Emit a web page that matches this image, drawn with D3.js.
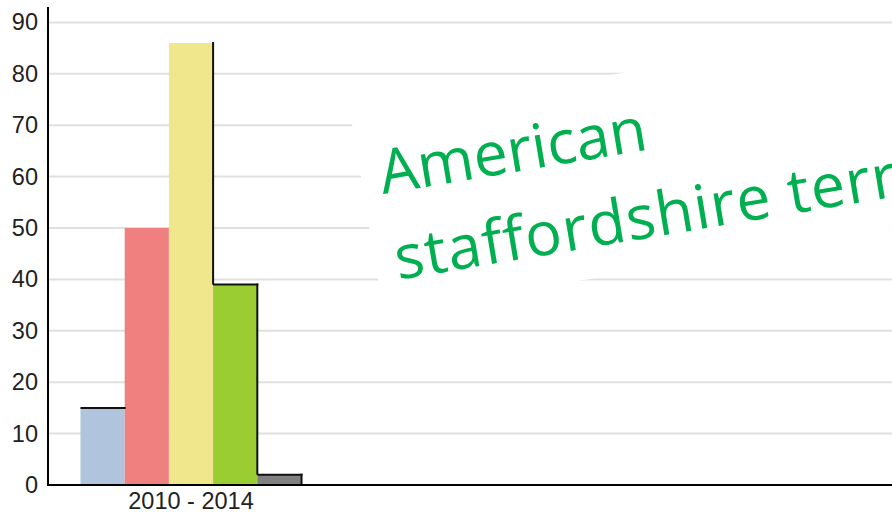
<!DOCTYPE html>
<html>
<head>
<meta charset="utf-8">
<script src="https://cdn.jsdelivr.net/npm/d3@7"></script>
<style>
  body { margin: 0; background: #fff; }
  svg { display: block; }
</style>
</head>
<body>
<script>
// data
var categories = ["2010 - 2014"];
var seriesNames = ["s1", "s2", "s3", "s4", "s5"];
var seriesValues = [15, 50, 86, 39, 2];
var seriesColors = ["#b0c4de", "#f08080", "#f0e68c", "#9acd32", "#808080"];
var yTicks = [0, 10, 20, 30, 40, 50, 60, 70, 80, 90];
var noteLines = ["American", "staffordshire terrier"];

var W = 892, H = 516;
var plotLeft = 48, plotBottom = 485, plotTop = 7;

var svg = d3.select("body").append("svg").attr("width", W).attr("height", H);

var y = d3.scaleLinear().domain([0, 93]).range([plotBottom, plotTop]);
var x0 = d3.scaleBand().domain(categories).range([plotLeft, 334]).paddingInner(0).paddingOuter(0.147);
var x1 = d3.scaleBand().domain(seriesNames).range([0, x0.bandwidth()]);

// grid lines
svg.append("g").selectAll("line")
  .data(yTicks.filter(function(d){ return d > 0; }))
  .enter().append("line")
  .attr("x1", plotLeft + 1).attr("x2", W)
  .attr("y1", function(d){ return y(d); })
  .attr("y2", function(d){ return y(d); })
  .attr("stroke", "#e0e0e0").attr("stroke-width", 2);

// bars
var bars = seriesNames.map(function(s, i){ return {name: s, value: seriesValues[i], color: seriesColors[i]}; });
var cx = x0(categories[0]);
svg.append("g").selectAll("rect")
  .data(bars)
  .enter().append("rect")
  .attr("x", function(d){ return cx + x1(d.name); })
  .attr("y", function(d){ return y(d.value); })
  .attr("width", x1.bandwidth())
  .attr("height", function(d){ return y(0) - y(d.value); })
  .attr("fill", function(d){ return d.color; });

// dark edges: top where previous bar is higher (or first), right side where next is lower (or last)
var edges = svg.append("g").attr("stroke", "#111").attr("stroke-width", 2).attr("fill", "none");
bars.forEach(function(d, i){
  var xa = cx + x1(d.name), xb = xa + x1.bandwidth();
  var prev = i > 0 ? bars[i-1].value : Infinity;
  var next = i < bars.length - 1 ? bars[i+1].value : 0;
  if (prev > d.value) {
    edges.append("line").attr("x1", xa).attr("x2", xb + 1).attr("y1", y(d.value)).attr("y2", y(d.value));
  }
  if (next < d.value) {
    edges.append("line").attr("x1", xb).attr("x2", xb).attr("y1", y(d.value) - 1).attr("y2", y(next));
  }
});

// axes
var yAxis = svg.append("g").attr("transform", "translate(" + plotLeft + ",0)")
  .call(d3.axisLeft(y).tickValues(yTicks).tickSize(0).tickPadding(10));
yAxis.select(".domain").remove();
yAxis.selectAll("text").attr("font-family", "Liberation Sans, Arial, sans-serif")
  .attr("font-size", 23.5).attr("fill", "#222");

svg.append("line").attr("x1", plotLeft).attr("x2", plotLeft).attr("y1", plotTop).attr("y2", plotBottom + 1)
  .attr("stroke", "#000").attr("stroke-width", 2);
svg.append("line").attr("x1", plotLeft).attr("x2", W).attr("y1", plotBottom).attr("y2", plotBottom)
  .attr("stroke", "#000").attr("stroke-width", 2);

var xAxis = svg.append("g").attr("transform", "translate(0," + plotBottom + ")")
  .call(d3.axisBottom(x0).tickSize(0).tickPadding(7));
xAxis.select(".domain").remove();
xAxis.selectAll("text").attr("font-family", "Liberation Sans, Arial, sans-serif")
  .attr("font-size", 23.5).attr("fill", "#222");

// rotated green note with white backing
var note = svg.append("g").attr("transform", "translate(383,194) rotate(-9.5)");
note.append("rect").attr("x", -19).attr("y", -80).attr("width", 700).attr("height", 198)
  .attr("fill", "#fff").attr("rx", 6);
note.selectAll("text")
  .data(noteLines)
  .enter().append("text")
  .attr("x", function(d, i){ return i; })
  .attr("y", function(d, i){ return i * 87; })
  .attr("font-family", "Open Sans, sans-serif")
  .attr("font-size", 61)
  .attr("letter-spacing", function(d, i){ return i ? 1.2 : 0; })
  .attr("fill", "#00b050")
  .text(function(d){ return d; });
</script>
</body>
</html>
